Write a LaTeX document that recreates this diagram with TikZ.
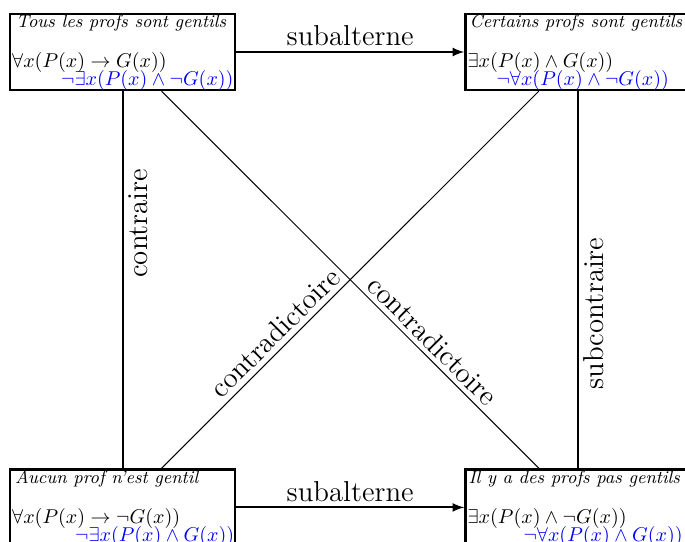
\documentclass[tikz,border=0pt]{standalone}
\usepackage{amsmath}
\usepackage{amssymb}
\usepackage{tikz}
\usetikzlibrary{arrows,positioning,calc}

\begin{document}
\begin{tikzpicture}[
    x=0.5pt, y=-0.5pt,
    node distance=188.5pt and 114pt,
    corner/.style={rectangle, draw, line width=1.2pt, minimum width=112.5pt, minimum height=38pt, inner sep=0pt},
    title/.style={anchor=base west, inner sep=0pt, font=\small\itshape},
    formula/.style={anchor=base west, inner sep=0pt},
    negated/.style={anchor=base west, inner sep=0pt, text=blue},
    lbl/.style={font=\Large, inner sep=2.5pt},
    arrow/.style={-latex, line width=1pt},
    side/.style={line width=1pt},
    diag/.style={line width=0.5pt}
]
    \useasboundingbox (0,0) rectangle (685,541);

    % The four corners of the square
    \node[corner] (tl) at (122.5,52) {};
    \node[corner, right=of tl] (tr) {};
    \node[corner, below=of tl] (bl) {};
    \node[corner, right=of bl] (br) {};

    % Texts in the corners
    \node[title] (tltitle) at ($(tl.north west)+(7,15)$) {Tous les profs sont gentils};
    \node[formula] (tlform) at ($(tl.north west)+(3,55)$) {$\forall x(P(x)\rightarrow G(x))$};
    \node[negated] (tlneg) at ($(tl.north west)+(52,73)$) {$\neg\exists x(P(x)\wedge\neg G(x))$};

    \node[title] (trtitle) at ($(tr.north west)+(5,15)$) {Certains profs sont gentils};
    \node[formula] (trform) at ($(tr.north west)+(3,55)$) {$\exists x(P(x)\wedge G(x))$};
    \node[negated] (trneg) at ($(tr.north west)+(32,73)$) {$\neg\forall x(P(x)\wedge\neg G(x))$};

    \node[title] (bltitle) at ($(bl.north west)+(6,15)$) {Aucun prof n'est gentil};
    \node[formula] (blform) at ($(bl.north west)+(3,55)$) {$\forall x(P(x)\rightarrow\neg G(x))$};
    \node[negated] (blneg) at ($(bl.north west)+(66,73)$) {$\neg\exists x(P(x)\wedge G(x))$};

    \node[title] (brtitle) at ($(br.north west)+(4,15)$) {Il y a des profs pas gentils};
    \node[formula] (brform) at ($(br.north west)+(3,55)$) {$\exists x(P(x)\wedge\neg G(x))$};
    \node[negated] (brneg) at ($(br.north west)+(59,73)$) {$\neg\forall x(P(x)\wedge G(x))$};

    % Relations
    \draw[arrow] (tl) -- node[lbl, above] {subalterne} (tr);
    \draw[arrow] (bl) -- node[lbl, above] {subalterne} (br);
    \draw[side] (tl) -- node[lbl, pos=0.35, rotate=90, anchor=north] {contraire} (bl);
    \draw[side] (tr) -- node[lbl, pos=0.59, rotate=90, anchor=north] {subcontraire} (br);
    \draw[diag] (bl) -- node[lbl, pos=0.33, sloped, above] {contradictoire} (tr);
    \draw[diag] (tl) -- node[lbl, pos=0.69, sloped, above] {contradictoire} (br);
\end{tikzpicture}
\end{document}
